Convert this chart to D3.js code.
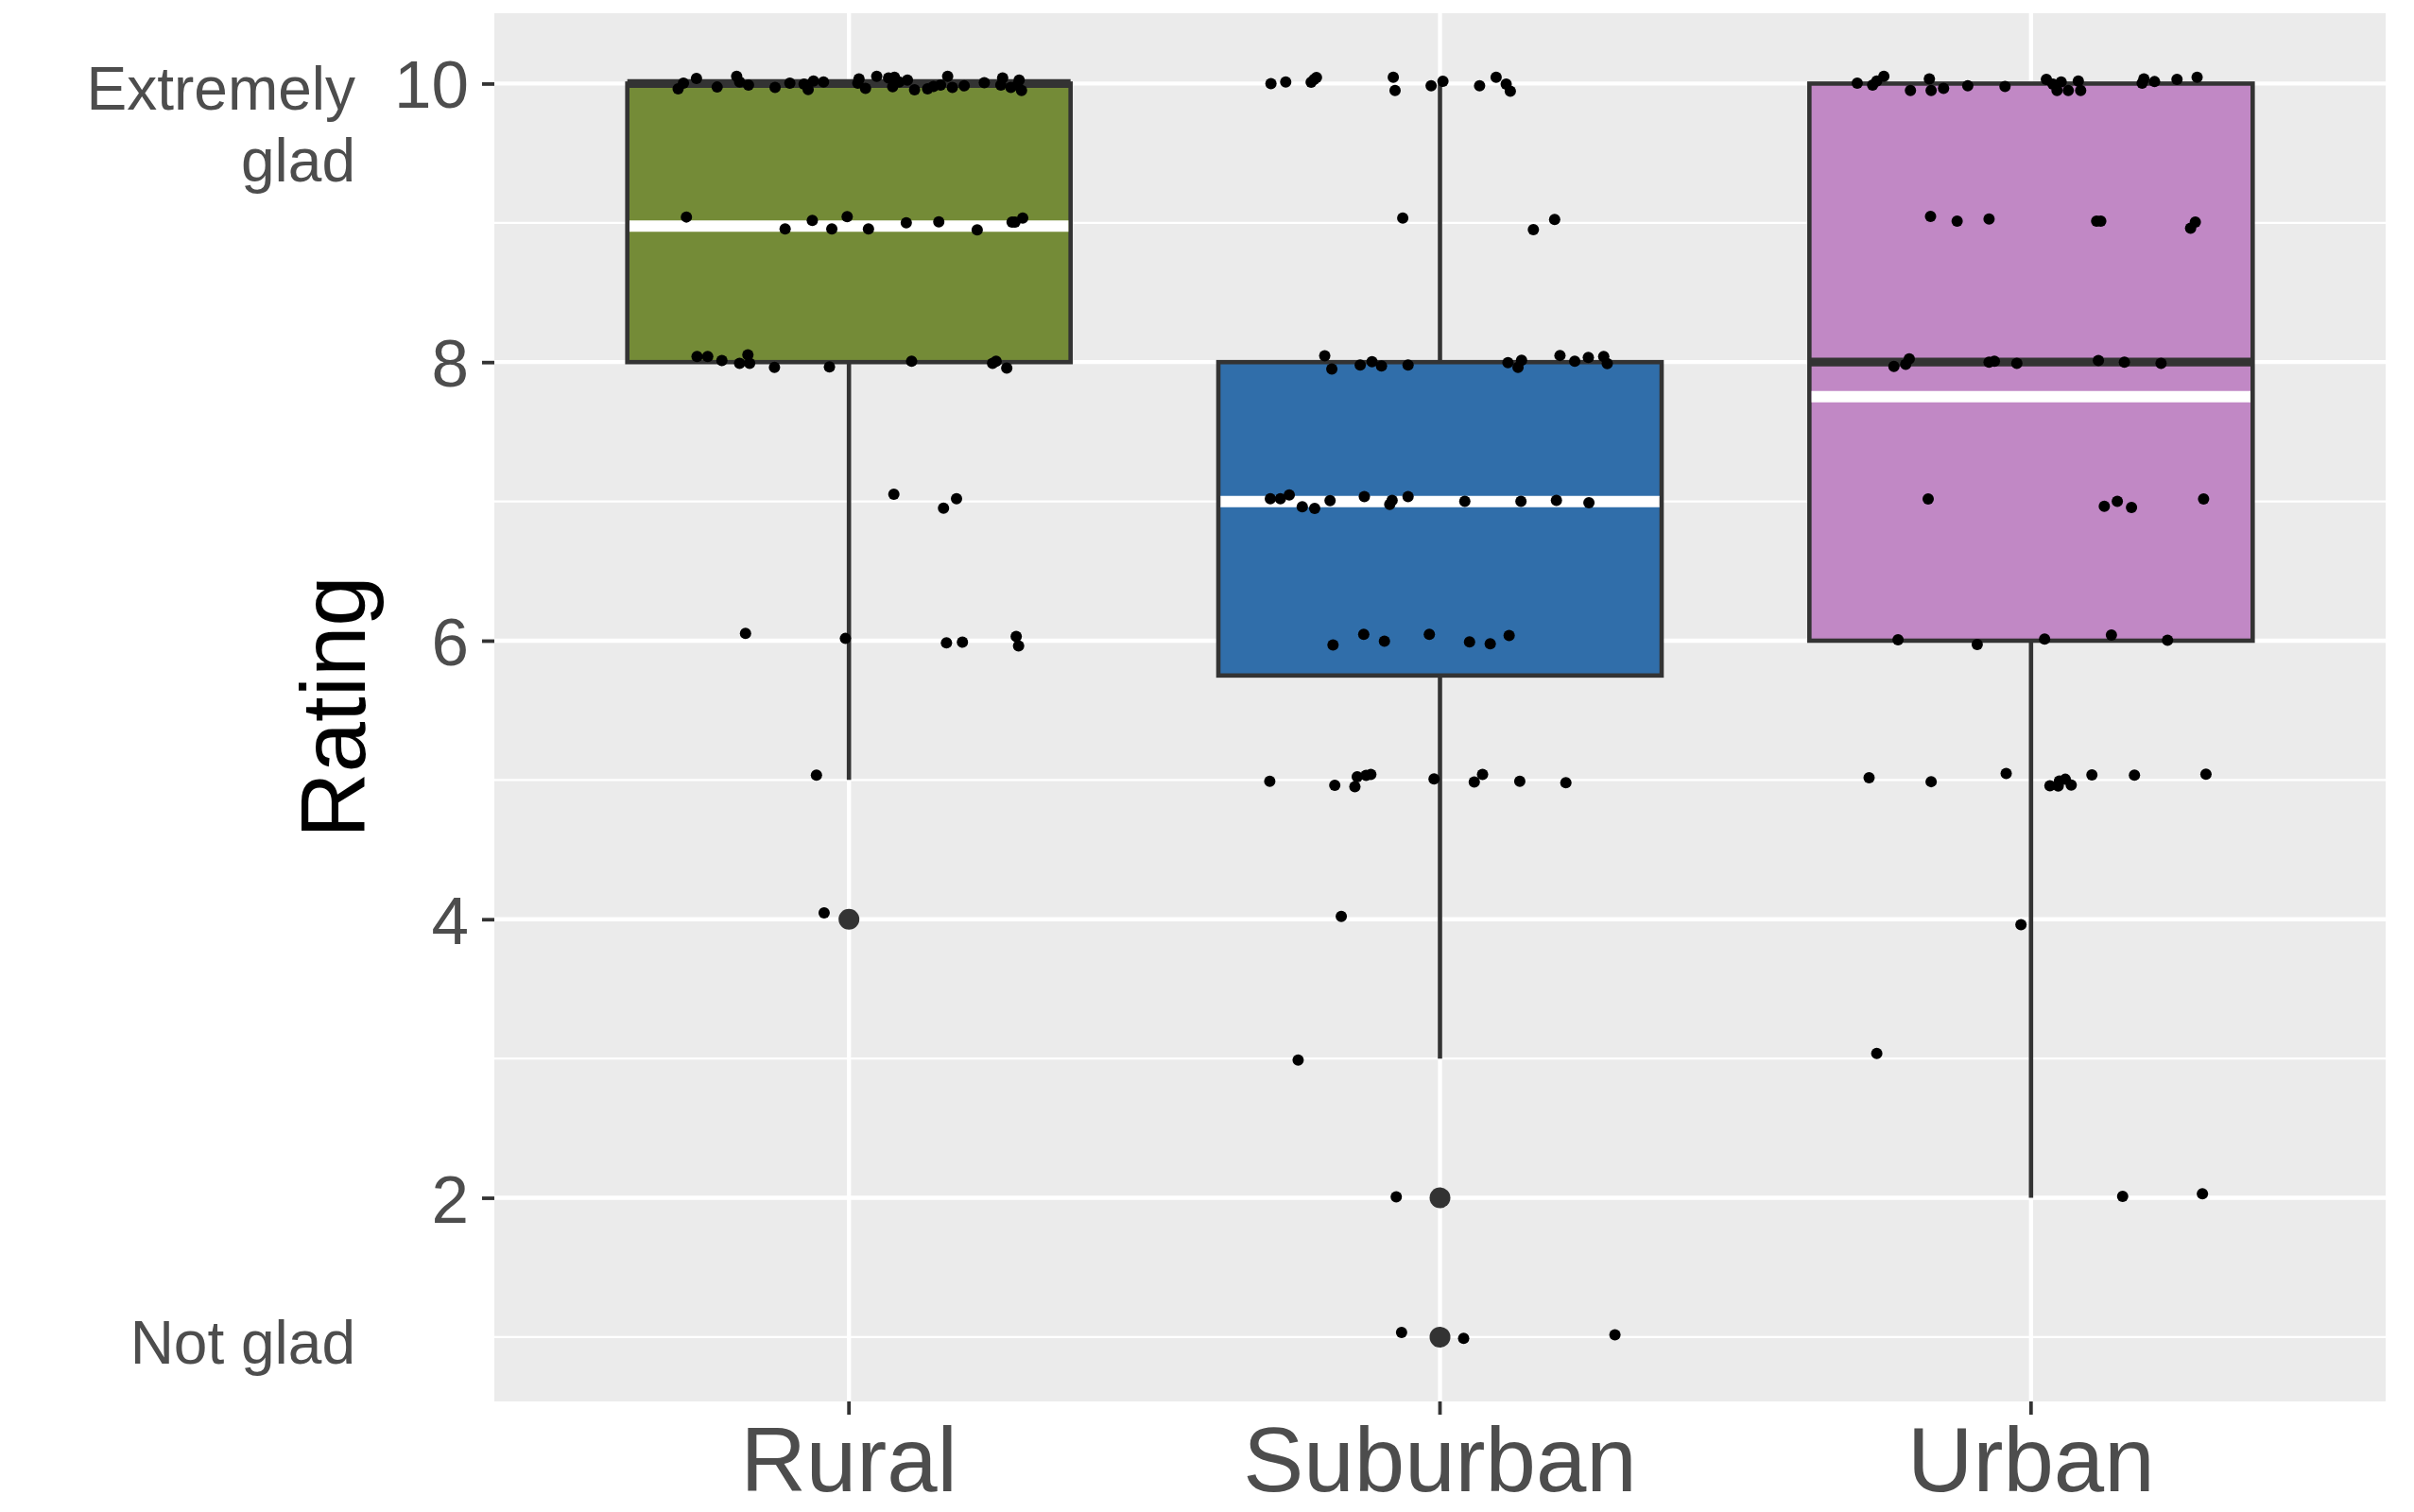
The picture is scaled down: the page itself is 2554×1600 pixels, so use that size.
<!DOCTYPE html>
<html><head><meta charset="utf-8">
<script src="https://cdn.jsdelivr.net/npm/d3@7"></script>
<style>html,body{margin:0;padding:0;background:#fff;} svg{display:block;}</style>
</head><body>
<svg id="chart" width="2554" height="1600"></svg>
<script>
// ---------- data ----------
const categories = ["Rural", "Suburban", "Urban"];
const q1 = [8, 5.75, 6];
const medians = [10, 7, 8];
const q3 = [10, 8, 10];
const whiskerLow = [5, 3, 2];
const whiskerHigh = [10, 10, 10];
const means = [8.976, 6.999, 7.752];
const outliers = [[4], [2, 1], []];
const yTicks = [2, 4, 6, 8, 10];
const yMinorTicks = [1, 3, 5, 7, 9];
const scaleLabels = [{ value: 10, lines: ["Extremely", "glad"] }, { value: 1, lines: ["Not glad"] }];
const yTitle = "Rating";
// jittered observations: [horizontal jitter in category units, rating]
const ruralPoints = [
  [-0.289,9.962],[-0.280,10.003],[-0.258,10.037],[-0.223,9.975],[-0.190,10.052],[-0.185,10.012],[-0.170,9.989],[-0.125,9.973],[-0.100,10.003],[-0.076,9.996],[-0.069,9.957],[-0.060,10.018],[-0.043,10.012],[0.017,10.034],[0.015,10.003],[0.028,9.966],[0.047,10.052],[0.067,10.041],[0.077,10.045],[0.074,9.978],[0.085,10.012],[0.099,10.025],[0.111,9.955],[0.133,9.962],[0.143,9.980],[0.155,9.989],[0.167,10.052],[0.175,9.973],[0.195,9.984],[0.229,10.007],[0.260,10.041],[0.257,9.989],[0.274,9.973],[0.288,10.025],[0.292,9.950],[0.285,9.989],
  [-0.275,9.042],[-0.108,8.956],[-0.062,9.017],[-0.029,8.956],[-0.003,9.044],[0.033,8.956],[0.097,9.000],[0.152,9.008],[0.217,8.949],[0.276,9.006],[0.294,9.035],[0.281,9.006],
  [-0.257,8.041],[-0.239,8.041],[-0.215,8.012],[-0.185,7.991],[-0.171,8.052],[-0.168,7.991],[-0.126,7.962],[-0.033,7.966],[0.106,8.007],[0.243,7.991],[0.249,8.007],[0.267,7.957],
  [0.076,7.051],[0.182,7.020],[0.160,6.952],
  [-0.175,6.052],[-0.006,6.016],[0.165,5.984],[0.192,5.989],[0.283,6.030],[0.287,5.962],
  [-0.055,5.035],
  [-0.042,4.045]
];
const suburbanPoints = [
  [-0.286,10.0],[-0.261,10.012],[-0.218,10.01],[-0.213,10.03],[-0.209,10.043],[-0.079,10.045],[-0.076,9.950],[-0.015,9.984],[0.005,10.016],[0.067,9.984],[0.095,10.045],[0.112,9.996],[0.119,9.946],
  [-0.063,9.035],[0.158,8.952],[0.194,9.024],
  [-0.195,8.045],[-0.183,7.950],[-0.135,7.980],[-0.115,8.003],[-0.099,7.973],[-0.054,7.980],[0.115,7.996],[0.138,8.014],[0.132,7.962],[0.203,8.048],[0.228,8.007],[0.251,8.034],[0.277,8.041],[0.283,7.989],
  [-0.287,7.020],[-0.270,7.020],[-0.255,7.047],[-0.233,6.961],[-0.212,6.949],[-0.186,7.006],[-0.128,7.035],[-0.085,6.979],[-0.081,7.008],[-0.054,7.035],[0.042,7.001],[0.137,7.001],[0.197,7.008],[0.252,6.990],
  [-0.181,5.969],[-0.129,6.046],[-0.094,5.996],[-0.018,6.046],[0.050,5.991],[0.085,5.978],[0.117,6.037],
  [-0.288,4.990],[-0.178,4.961],[-0.144,4.952],[-0.140,5.023],[-0.125,5.033],[-0.117,5.040],[-0.010,5.007],[0.058,4.985],[0.072,5.039],[0.135,4.990],[0.213,4.981],
  [-0.167,4.021],
  [-0.240,2.989],
  [-0.074,2.007],
  [-0.065,1.033],[0.040,0.991],[0.296,1.017]
];
const urbanPoints = [
  [-0.294,10.003],[-0.268,9.989],[-0.261,10.018],[-0.249,10.052],[-0.204,9.950],[-0.172,10.034],[-0.169,9.950],[-0.148,9.966],[-0.107,9.984],[-0.044,9.980],[0.026,10.030],[0.037,9.996],[0.044,9.950],[0.051,10.012],[0.063,9.950],[0.080,10.018],[0.084,9.950],[0.188,10.003],[0.191,10.034],[0.209,10.014],[0.247,10.030],[0.281,10.045],
  [-0.170,9.047],[-0.125,9.013],[-0.071,9.028],[0.111,9.013],[0.118,9.013],[0.278,9.006],[0.270,8.961],
  [-0.232,7.969],[-0.212,7.984],[-0.206,8.023],[-0.071,8.000],[-0.062,8.007],[-0.024,7.991],[0.114,8.011],[0.158,8.000],[0.220,7.991],
  [-0.174,7.017],[0.124,6.965],[0.146,7.001],[0.170,6.956],[0.292,7.017],
  [-0.225,6.007],[-0.091,5.973],[0.023,6.012],[0.136,6.041],[0.231,6.003],
  [-0.274,5.016],[-0.169,4.988],[-0.042,5.047],[0.032,4.959],[0.046,4.957],[0.048,4.992],[0.058,5.005],[0.068,4.964],[0.103,5.037],[0.175,5.035],[0.296,5.042],
  [-0.017,3.961],
  [-0.261,3.037],
  [0.155,2.011],[0.290,2.029]
];
const pointsByCategory = [ruralPoints, suburbanPoints, urbanPoints];

// ---------- style ----------
const fillColors = ["#748B37", "#306EAA", "#C188C5"];
const font = "'Liberation Sans', Arial, Helvetica, sans-serif";
const panel = { left: 523, right: 2524, top: 14, bottom: 1483 };
const lineW = 4.6;

const svg = d3.select("#chart");

// scales
const allVals = pointsByCategory.flat().map(d => d[1]).concat(outliers.flat(), whiskerLow, whiskerHigh);
const [vmin, vmax] = d3.extent(allVals);
const pad = (vmax - vmin) * 0.05;
const y = d3.scaleLinear().domain([vmin - pad, vmax + pad]).range([panel.bottom, panel.top]);
const x = d3.scaleBand().domain(categories).range([panel.left, panel.right]).paddingInner(0).paddingOuter(0.1);
const step = x.step();
const boxW = x.bandwidth() * 0.75;
const cx = c => x(c) + x.bandwidth() / 2;

// panel background
svg.append("rect").attr("x", panel.left).attr("y", panel.top)
  .attr("width", panel.right - panel.left).attr("height", panel.bottom - panel.top).attr("fill", "#EBEBEB");

// gridlines
const grid = svg.append("g");
grid.selectAll(".minor").data(yMinorTicks).join("line")
  .attr("x1", panel.left).attr("x2", panel.right).attr("y1", d => y(d)).attr("y2", d => y(d))
  .attr("stroke", "#fff").attr("stroke-width", 2.3);
grid.selectAll(".major").data(yTicks).join("line")
  .attr("x1", panel.left).attr("x2", panel.right).attr("y1", d => y(d)).attr("y2", d => y(d))
  .attr("stroke", "#fff").attr("stroke-width", 4.3);
grid.selectAll(".vmajor").data(categories).join("line")
  .attr("x1", d => cx(d)).attr("x2", d => cx(d)).attr("y1", panel.top).attr("y2", panel.bottom)
  .attr("stroke", "#fff").attr("stroke-width", 4.3);

// boxplots
const stats = categories.map((c, i) => ({
  c, i, q1: q1[i], med: medians[i], q3: q3[i], lo: whiskerLow[i], hi: whiskerHigh[i], mean: means[i], out: outliers[i]
}));
const boxes = svg.append("g");
stats.forEach(s => {
  const g = boxes.append("g");
  g.selectAll("circle").data(s.out).join("circle")
    .attr("cx", cx(s.c)).attr("cy", d => y(d)).attr("r", 11).attr("fill", "#333333");
  g.append("line").attr("x1", cx(s.c)).attr("x2", cx(s.c)).attr("y1", y(s.q3)).attr("y2", y(s.hi))
    .attr("stroke", "#333333").attr("stroke-width", lineW);
  g.append("line").attr("x1", cx(s.c)).attr("x2", cx(s.c)).attr("y1", y(s.q1)).attr("y2", y(s.lo))
    .attr("stroke", "#333333").attr("stroke-width", lineW);
  g.append("rect").attr("x", cx(s.c) - boxW / 2).attr("width", boxW)
    .attr("y", y(s.q3)).attr("height", y(s.q1) - y(s.q3))
    .attr("fill", fillColors[s.i]).attr("stroke", "#333333").attr("stroke-width", lineW);
  g.append("line").attr("x1", cx(s.c) - boxW / 2).attr("x2", cx(s.c) + boxW / 2)
    .attr("y1", y(s.med)).attr("y2", y(s.med))
    .attr("stroke", "#333333").attr("stroke-width", lineW * 2);
});
// mean lines (white)
svg.append("g").selectAll("line").data(stats).join("line")
  .attr("x1", d => cx(d.c) - boxW / 2 + lineW / 2).attr("x2", d => cx(d.c) + boxW / 2 - lineW / 2)
  .attr("y1", d => y(d.mean)).attr("y2", d => y(d.mean))
  .attr("stroke", "#fff").attr("stroke-width", 12);

// jittered points
const pts = svg.append("g");
categories.forEach((c, i) => {
  pts.selectAll(null).data(pointsByCategory[i]).join("circle")
    .attr("cx", d => cx(c) + d[0] * step).attr("cy", d => y(d[1])).attr("r", 6).attr("fill", "#000");
});

// axes
const yAxis = d3.axisLeft(y).tickValues(yTicks).tickSize(13).tickPadding(14).tickFormat(d3.format("d"));
const gy = svg.append("g").attr("transform", `translate(${panel.left},0)`).call(yAxis);
gy.select(".domain").remove();
gy.selectAll(".tick line").attr("stroke", "#333333").attr("stroke-width", 3.8);
gy.selectAll(".tick text").attr("fill", "#4D4D4D").style("font-family", font).style("font-size", "71px").attr("dy", "0.36em");

const xAxis = d3.axisBottom(x).tickSize(14).tickPadding(13);
const gx = svg.append("g").attr("transform", `translate(0,${panel.bottom})`).call(xAxis);
gx.select(".domain").remove();
gx.selectAll(".tick line").attr("stroke", "#333333").attr("stroke-width", 3.8);
gx.selectAll(".tick text").attr("fill", "#4D4D4D").style("font-family", font).style("font-size", "96px");

// scale end labels
const sl = svg.append("g").style("font-family", font).style("font-size", "64px").attr("fill", "#4D4D4D").attr("text-anchor", "end");
scaleLabels.forEach(l => {
  const t = sl.append("text").attr("x", 376).attr("y", y(l.value) + 28);
  l.lines.forEach((ln, k) => t.append("tspan").attr("x", 376).attr("dy", k === 0 ? 0 : 76).text(ln));
});

// y title
svg.append("text").attr("transform", `translate(386,748) rotate(-90)`)
  .attr("text-anchor", "middle").style("font-family", font).style("font-size", "96px").attr("fill", "#000")
  .text(yTitle);
</script>
</body></html>
